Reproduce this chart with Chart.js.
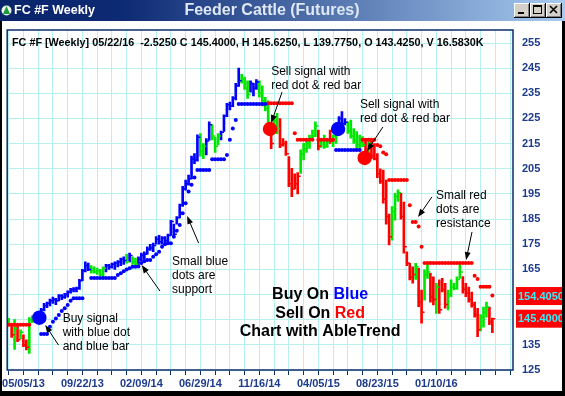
<!DOCTYPE html>
<html>
<head>
<meta charset="utf-8">
<script src="https://cdn.jsdelivr.net/npm/chart.js@4.4.1/dist/chart.umd.min.js"></script>
<style>
  html, body { margin: 0; padding: 0; background: #fff; overflow: hidden; }
  #wrap { position: relative; width: 565px; height: 396px; }
</style>
</head>
<body>
<div id="wrap"><canvas id="c"></canvas></div>
<script>
// weekly bars, week 0 = 05/05/13
const firstWeek = -5;
const highs = [
  145.5,143.0,145.0,142.5,141.0,139.0,137.0,145.8,146.5,147.0,
  148.0,149.5,151.5,152.0,153.2,154.0,153.5,155.0,155.0,155.5,
  156.5,157.5,157.8,158.0,161.0,165.0,168.0,167.5,166.5,166.0,
  165.5,165.0,166.0,167.0,167.0,167.5,168.0,168.5,169.5,170.0,
  171.0,171.5,170.0,169.5,170.0,171.5,172.0,174.0,175.0,175.5,
  178.0,178.5,178.0,178.0,179.0,184.5,183.0,186.0,191.0,198.0,
  200.5,202.5,210.0,211.0,218.5,219.0,215.0,217.0,223.7,222.5,
  217.5,219.0,220.0,226.4,231.0,231.5,233.7,239.0,245.0,242.5,
  241.5,240.0,240.0,239.0,240.5,240.0,238.0,233.4,232.0,222.0,
  225.7,227.0,225.0,217.0,216.0,209.8,205.2,203.0,203.5,212.5,
  215.1,216.5,218.4,220.4,223.7,220.4,217.0,218.4,216.5,220.4,
  218.4,220.4,225.7,227.7,225.0,223.7,224.4,221.0,219.8,218.4,
  217.8,217.0,217.0,216.5,215.0,211.0,205.0,204.5,200.5,187.0,
  190.0,195.2,196.6,195.2,191.8,172.0,167.4,166.0,167.4,165.5,
  156.8,164.8,167.4,163.4,162.0,159.5,160.8,161.4,159.5,156.8,
  160.8,159.5,162.0,167.4,162.1,159.5,158.0,156.0,152.0,149.5,
  147.0,150.0,152.0,150.0,145.6
];
const lows = [
  142.5,138.0,133.2,136.3,137.5,134.3,133.0,131.6,143.8,144.5,
  144.5,146.5,148.5,149.8,150.5,151.5,151.0,152.5,153.0,153.5,
  154.0,155.5,156.0,156.0,157.0,160.5,164.0,164.5,163.5,163.5,
  163.0,162.5,162.0,164.0,165.0,165.5,165.0,166.0,166.5,167.0,
  167.5,168.0,167.0,166.5,166.5,168.5,169.0,171.0,172.5,172.0,
  175.0,175.0,175.0,175.5,176.0,178.5,178.0,183.0,185.5,190.0,
  196.5,198.5,201.0,207.0,208.0,210.0,209.0,210.5,216.4,216.5,
  211.5,214.5,216.5,219.8,225.7,228.4,229.7,232.4,237.7,239.0,
  236.5,233.0,235.5,234.0,236.5,233.5,230.0,228.0,221.8,213.0,
  219.0,219.0,213.4,214.0,210.3,197.9,193.9,197.0,195.0,203.2,
  208.5,211.5,213.1,216.5,217.8,212.5,213.5,213.1,213.5,215.1,
  213.8,215.1,219.8,221.8,222.4,219.1,217.2,215.1,213.1,212.5,
  213.8,210.0,211.0,209.0,208.5,201.5,199.2,191.3,183.0,174.7,
  176.6,184.6,192.0,185.0,171.4,166.5,160.8,159.5,161.0,150.2,
  143.6,152.8,161.4,152.0,150.9,147.5,147.5,156.0,149.6,148.9,
  154.2,156.8,157.0,161.4,155.5,154.2,152.0,150.0,146.0,138.3,
  140.5,142.0,146.0,143.0,139.8
];
const closes = [
  143.0,139.0,141.5,137.0,140.0,135.0,134.0,145.0,146.0,146.5,
  147.5,149.0,150.5,151.5,152.5,153.0,152.5,154.5,154.0,155.0,
  156.0,157.0,157.0,157.5,160.5,164.5,166.5,165.0,164.5,164.0,
  164.5,163.0,165.5,166.5,166.0,167.0,167.5,168.0,169.0,168.5,
  168.0,170.5,168.0,167.0,169.0,170.5,171.0,173.0,173.5,174.5,
  177.0,176.0,177.5,176.5,178.5,184.0,179.0,185.5,190.5,197.0,
  199.0,201.0,209.0,208.5,217.5,212.0,214.0,216.0,222.5,218.0,
  214.0,218.0,219.5,226.0,230.5,230.0,233.0,238.0,240.0,240.5,
  237.0,234.5,239.0,237.0,239.5,235.0,232.0,229.0,223.0,215.0,
  224.0,221.0,214.5,215.0,211.0,199.0,197.0,199.0,202.0,211.0,
  213.0,215.0,217.0,218.0,222.0,214.0,216.5,214.0,215.5,216.0,
  218.0,220.0,225.0,223.0,223.5,220.0,218.0,216.0,214.5,215.5,
  214.5,212.0,215.0,210.0,209.0,203.0,200.0,193.0,186.0,178.0,
  188.0,194.0,195.5,186.0,174.0,167.5,162.0,163.0,166.0,152.0,
  148.0,163.0,164.0,154.0,153.0,158.0,149.0,157.0,151.0,155.0,
  158.0,157.5,161.0,164.0,157.0,155.5,153.0,151.0,147.0,141.0,
  146.0,148.0,150.0,144.0,145.4
];
// b = up (blue), g = caution (green), r = down (red)
const trend = (
  'grgrgrrggg' + 'bbbbbbbbbb' + 'bbbbbbbbgg' + 'gggbbbbbbb' + 'gbggbbbbbb' +
  'bbbbbbbbbb' + 'bbbbbggbbg' + 'ggbbbbbbbg' + 'ggbbbggggr' + 'ggrrrrrrrg' +
  'gggggrgggr' + 'ggbbbggggg' + 'grgrrrrrrr' + 'gggrrrrrgr' + 'rggrrgrrrg' +
  'ggggrrrrrr' + 'gggrr').split('');

const supportWeeks = [6,7,8,9,10,11,12,13,14,15,16,17,18,19,20,
  23,24,25,26,27,28,29,30,31,
  32,33,34,35,36,37,38,39,
  40,41,42,43,
  44,45,46,47,48,49,50,51,52,53,54,55,56,57,58,
  59,60,61,62,63,64,65,66,67,68,
  69,70,71,72,
  73,74,75,76,77,78,79,80,81,82,
  106,107,108,109,110,111,112,113,114];
const supportValues = [139.3,139.3,139.3,142.2,144.2,145.5,146.9,148.5,149.5,150.8,152.5,153.5,153.5,153.5,153.5,
  161.6,161.6,161.6,161.6,161.6,161.6,161.6,161.6,161.6,
  162.8,163.5,164.3,165.0,165.5,166.0,166.0,166.1,
  167.5,168.2,168.7,168.7,
  170.0,171.0,172.0,174.0,175.0,175.4,175.4,178.0,180.4,182.6,187.3,191.3,196.0,198.6,201.5,
  204.5,204.5,204.5,204.5,204.5,208.8,208.8,208.8,208.8,208.8,
  210.5,216.5,221.0,224.4,
  230.8,230.8,230.8,230.8,230.8,230.8,230.8,230.8,230.8,230.8,
  212.5,212.5,212.5,212.5,212.5,212.5,212.5,212.5,212.5];

const resistWeeks = [-5,-4,-3,-2,-1,0,1,2,
  83,84,85,86,87,88,89,90,91,
  92,
  93,94,95,96,97,98,100,101,102,103,104,105,
  115,116,117,118,119,
  120,121,122,123,
  124,125,126,127,128,129,130,
  131,132,133,134,135,
  136,137,138,139,140,141,142,143,144,145,146,147,148,149,150,151,152,
  153,154,155,156,157,158,159];
const resistValues = [143.0,143.0,143.0,143.0,143.0,143.0,143.0,143.0,
  231.0,231.0,231.0,231.0,231.0,231.0,231.0,231.0,231.0,
  219.1,
  216.5,216.5,216.5,216.5,216.5,216.5,216.5,216.5,216.5,216.5,216.5,216.5,
  216.5,216.5,216.5,216.5,216.5,
  214.5,214.0,211.5,210.8,
  200.5,200.5,200.5,200.5,200.5,200.5,200.5,
  190.5,183.8,183.8,182.0,174.0,
  167.5,167.5,167.5,167.5,167.5,167.5,167.5,167.5,167.5,167.5,167.5,167.5,167.5,167.5,167.5,167.5,167.5,
  162.5,161.2,158.1,158.1,158.1,158.1,154.6];

const signalWeeks  = [5.4, 83.6, 106.7, 115.7];
const signalValues = [145.8, 220.8, 220.8, 209.3];
const signalTrend  = ['b', 'r', 'b', 'r'];

const xLabelWeeks = [0, 20, 40, 60, 80, 100, 120, 140];
const xLabels = ['05/05/13','09/22/13','02/09/14','06/29/14','11/16/14','04/05/15','08/23/15','01/10/16'];
const yTicks = [125,135,145,155,165,175,185,195,205,215,225,235,245,255];
const lastPrices = [154.405, 145.400];
const lastPriceText = ['154.4050', '145.4000'];

const COLORS = { b: '#0000ff', g: '#00e600', r: '#ff0000' };
const FONT = '"Liberation Sans", Arial, sans-serif';
const axisBlue = '#1d3b8c';
const gridCyan = '#b8f0f0';
const frameBlue = '#0c2d6b';

const tickWeeks = [];
for (let w = -5; w <= 165; w += 5) tickWeeks.push(w);

const barData = highs.map((h, i) => ({ x: firstWeek + i, y: [lows[i], h] }));
const barColors = trend.map(t => COLORS[t]);
const closeData = closes.map((c, i) => ({ x: firstWeek + i + 0.5, y: c }));

// annotation texts, placed in data units (week, price)
const notes = [
  { w: 84.0,  p: 243.5, lines: ['Sell signal with', 'red dot & red bar'] },
  { w: 114.1, p: 230.4, lines: ['Sell signal with', 'red dot & red bar'] },
  { w: 139.9, p: 194.2, lines: ['Small red', 'dots are', 'resistance'] },
  { w: 50.4,  p: 167.9, lines: ['Small blue', 'dots are', 'support'] },
  { w: 13.3,  p: 145.3, lines: ['Buy signal', 'with blue dot', 'and blue bar'] }
];
const arrows = [
  [87.7, 235.5, 84.0, 223.2],
  [121.9, 221.6, 116.5, 212.1],
  [138.5, 193.8, 133.8, 185.8],
  [152.1, 179.9, 150.1, 168.7],
  [46.3, 156.4, 40.1, 166.7],
  [59.4, 175.5, 55.5, 186.2],
  [11.9, 134.9, 7.4, 142.9]
];

function drawArrow(ctx, x1, y1, x2, y2) {
  const a = Math.atan2(y2 - y1, x2 - x1);
  const L = 8, W = 3;
  ctx.beginPath();
  ctx.moveTo(x1, y1);
  ctx.lineTo(x2 - 6 * Math.cos(a), y2 - 6 * Math.sin(a));
  ctx.stroke();
  ctx.beginPath();
  ctx.moveTo(x2, y2);
  ctx.lineTo(x2 - L * Math.cos(a) + W * Math.sin(a), y2 - L * Math.sin(a) - W * Math.cos(a));
  ctx.lineTo(x2 - L * Math.cos(a) - W * Math.sin(a), y2 - L * Math.sin(a) + W * Math.cos(a));
  ctx.closePath();
  ctx.fill();
}

function drawButton(ctx, x, y, kind) {
  const w = 15, h = 14;
  ctx.fillStyle = '#000'; ctx.fillRect(x, y, w + 1, h + 1);
  ctx.fillStyle = '#fff'; ctx.fillRect(x, y, w, h);
  ctx.fillStyle = '#808080'; ctx.fillRect(x + 1, y + 1, w - 1, h - 1);
  ctx.fillStyle = '#d4d0c8'; ctx.fillRect(x + 1, y + 1, w - 2, h - 2);
  ctx.fillStyle = '#000'; ctx.strokeStyle = '#000';
  if (kind === 'min') {
    ctx.fillRect(x + 4, y + 9, 6, 2);
  } else if (kind === 'max') {
    ctx.lineWidth = 1;
    ctx.strokeRect(x + 3.5, y + 2.5, 8, 8);
    ctx.fillRect(x + 3, y + 2, 9, 2);
  } else {
    ctx.lineWidth = 1.6;
    ctx.beginPath();
    ctx.moveTo(x + 4, y + 3); ctx.lineTo(x + 11, y + 10);
    ctx.moveTo(x + 11, y + 3); ctx.lineTo(x + 4, y + 10);
    ctx.stroke();
  }
}

const chrome = {
  id: 'chrome',
  beforeDraw(chart) {
    const ctx = chart.ctx;
    ctx.save();
    ctx.fillStyle = '#fff';
    ctx.fillRect(0, 0, chart.width, chart.height);
    ctx.restore();
  },
  afterDraw(chart) {
    const ctx = chart.ctx;
    const xs = chart.scales.x, ys = chart.scales.y;
    const a = chart.chartArea;
    const W = chart.width, H = chart.height;
    ctx.save();

    // plot frame
    ctx.strokeStyle = frameBlue;
    ctx.lineWidth = 1.5;
    ctx.strokeRect(a.left, a.top, a.right - a.left, a.bottom - a.top);

    // info line
    ctx.fillStyle = '#000';
    ctx.font = 'bold 10.8px ' + FONT;
    ctx.textBaseline = 'middle';
    ctx.textAlign = 'left';
    ctx.fillText('FC #F [Weekly] 05/22/16  -2.5250 C 145.4000, H 145.6250, L 139.7750, O 143.4250, V 16.5830K', 12, 43);

    // notes
    ctx.font = '12px ' + FONT;
    notes.forEach(n => {
      const x = xs.getPixelForValue(n.w), y = ys.getPixelForValue(n.p);
      n.lines.forEach((t, i) => ctx.fillText(t, x, y + i * 14));
    });
    ctx.strokeStyle = '#000';
    ctx.fillStyle = '#000';
    ctx.lineWidth = 1;
    arrows.forEach(r => drawArrow(ctx,
      xs.getPixelForValue(r[0]), ys.getPixelForValue(r[1]),
      xs.getPixelForValue(r[2]), ys.getPixelForValue(r[3])));

    // centre legend text
    ctx.font = 'bold 16px ' + FONT;
    const cx = xs.getPixelForValue(100.6);
    const cy = ys.getPixelForValue(154.8);
    const rows = [
      [['Buy On ', '#000'], ['Blue', COLORS.b]],
      [['Sell On ', '#000'], ['Red', COLORS.r]],
      [['Chart with AbleTrend', '#000']]
    ];
    rows.forEach((row, i) => {
      const total = row.reduce((s, p) => s + ctx.measureText(p[0]).width, 0);
      let x = cx - total / 2;
      row.forEach(p => {
        ctx.fillStyle = p[1];
        ctx.fillText(p[0], x, cy + i * 18.5);
        x += ctx.measureText(p[0]).width;
      });
    });

    // last price boxes
    ctx.font = 'bold 11px ' + FONT;
    lastPrices.forEach((v, i) => {
      const y = ys.getPixelForValue(v);
      ctx.fillStyle = '#ff0000';
      ctx.fillRect(516, y - 9, 48, 18);
      ctx.fillStyle = '#33eeff';
      ctx.fillText(lastPriceText[i], 518, y + 0.5);
    });

    // window title bar
    const g = ctx.createLinearGradient(0, 0, W, 0);
    g.addColorStop(0, '#0a246a');
    g.addColorStop(0.22, '#0d2a74');
    g.addColorStop(1, '#a6caf0');
    ctx.fillStyle = g;
    ctx.fillRect(0, 0, W, 21);
    // icon
    ctx.fillStyle = '#e8f4e8';
    ctx.beginPath(); ctx.arc(6.5, 10.5, 5, 0, Math.PI * 2); ctx.fill();
    ctx.fillStyle = '#1a9a3a';
    ctx.beginPath(); ctx.moveTo(6.5, 6); ctx.lineTo(10, 14); ctx.lineTo(3, 14); ctx.closePath(); ctx.fill();
    ctx.fillStyle = '#fff';
    ctx.font = 'bold 12.5px ' + FONT;
    ctx.textAlign = 'left';
    ctx.fillText('FC #F Weekly', 14, 11);
    ctx.fillStyle = '#dfe8f4';
    ctx.font = 'bold 16px ' + FONT;
    ctx.textAlign = 'center';
    ctx.fillText('Feeder Cattle (Futures)', 272, 10.5);
    drawButton(ctx, 514, 3, 'min');
    drawButton(ctx, 530, 3, 'max');
    drawButton(ctx, 546, 3, 'close');

    // outer frame
    ctx.fillStyle = '#000';
    ctx.fillRect(0, 21, 2, H - 21);
    ctx.fillRect(W - 3, 21, 3, H - 21);
    ctx.fillRect(0, H - 5, W, 5);
    ctx.restore();
  }
};

new Chart(document.getElementById('c'), {
  type: 'bar',
  data: {
    datasets: [
      { type: 'scatter', data: signalWeeks.map((w, i) => ({ x: w, y: signalValues[i] })),
        pointRadius: 7.2, pointBackgroundColor: signalTrend.map(t => COLORS[t]),
        pointBorderWidth: 0, order: 1 },
      { type: 'scatter', data: supportWeeks.map((w, i) => ({ x: w, y: supportValues[i] })),
        pointRadius: 2, pointBackgroundColor: COLORS.b, pointBorderWidth: 0, order: 2 },
      { type: 'scatter', data: resistWeeks.map((w, i) => ({ x: w, y: resistValues[i] })),
        pointRadius: 2, pointBackgroundColor: COLORS.r, pointBorderWidth: 0, order: 2 },
      { type: 'scatter', data: closeData, pointStyle: 'line', pointRadius: 1.5,
        pointBorderColor: barColors, pointBorderWidth: 1.5, order: 3 },
      { type: 'bar', data: barData, backgroundColor: barColors, borderWidth: 0,
        barThickness: 2, grouped: false, order: 4 }
    ]
  },
  options: {
    responsive: true,
    maintainAspectRatio: false,
    animation: false,
    events: [],
    layout: { padding: { left: 7, top: 30, right: 0, bottom: 0 } },
    plugins: { legend: { display: false }, tooltip: { enabled: false } },
    scales: {
      x: {
        type: 'linear', min: -5.5, max: 166, offset: false,
        afterBuildTicks(s) { s.ticks = tickWeeks.map(v => ({ value: v })); },
        afterFit(s) { s.height = 26; },
        ticks: {
          autoSkip: false, maxRotation: 0, minRotation: 0, padding: 2,
          color: axisBlue, font: { family: FONT, size: 11, weight: 'bold' },
          callback(v) { const i = xLabelWeeks.indexOf(v); return i >= 0 ? xLabels[i] : ''; }
        },
        grid: { offset: false, color: gridCyan, tickColor: frameBlue, tickLength: 5, lineWidth: 1 },
        border: { display: false }
      },
      y: {
        position: 'right', min: 125, max: 260.17,
        afterBuildTicks(s) { s.ticks = yTicks.map(v => ({ value: v })); },
        afterFit(s) { s.width = 52; },
        ticks: { padding: 9, color: axisBlue, font: { family: FONT, size: 11, weight: 'bold' } },
        grid: { color: gridCyan, drawTicks: false, lineWidth: 1 },
        border: { display: false }
      }
    }
  },
  plugins: [chrome]
});
</script>
</body>
</html>
